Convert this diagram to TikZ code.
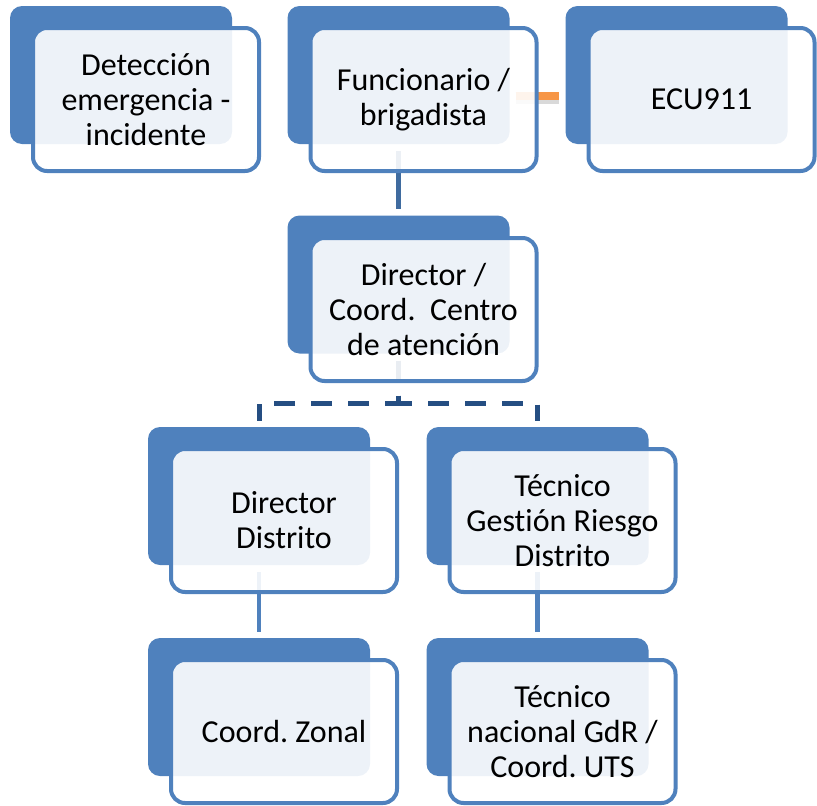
\documentclass[tikz,border=0pt]{standalone}
\usepackage{fontspec}
\setmainfont{Carlito}[RawFeature=-liga]
\definecolor{boxblue}{HTML}{4F81BD}
\definecolor{connA}{HTML}{3F6B9F}
\definecolor{connB}{HTML}{4F81BD}
\definecolor{dashblue}{HTML}{254E82}
\definecolor{orangeln}{HTML}{F79646}
\frenchspacing
\begin{document}
\begin{tikzpicture}[x=1pt,y=-1pt,
  backbox/.style={fill=boxblue, draw=none, rounded corners=12pt,
    minimum width=222pt, minimum height=138pt, inner sep=0pt},
  frontbox/.style={draw=boxblue, line width=4pt, fill=white, fill opacity=0.9,
    text opacity=1, rounded corners=14pt, minimum width=226pt, minimum height=143pt,
    align=center, inner sep=0pt, font=\fontsize{32pt}{35pt}\selectfont},
  solidconn/.style={line width=4.5pt, shorten <=7pt, shorten >=6pt},
  dashconn/.style={draw=dashblue, line width=5pt, dash pattern=on 21pt off 16pt,
    dash phase=2pt, shorten <=7pt, shorten >=6pt}]
\useasboundingbox (0,0) rectangle (817,806);

% back boxes
\node[backbox] (b1) at (121,75) {};
\node[backbox] (b2) at (398.5,75) {};
\node[backbox] (b3) at (676.5,75) {};
\node[backbox] (b4) at (398.5,284.5) {};
\node[backbox] (b5) at (259,496) {};
\node[backbox] (b6) at (537.5,496) {};
\node[backbox] (b7) at (259,707) {};
\node[backbox] (b8) at (537.5,707) {};

% connectors
\draw[solidconn, draw=connA] (b2.south) -- (b4.north);
\draw[dashconn] (b4.south) -- ++(0,49.5) -| (b5.north);
\draw[dashconn] (b4.south) -- ++(0,49.5) -| (b6.north);
\draw[solidconn, draw=connB] (b5.south) -- (b7.north);
\draw[solidconn, draw=connB] (b6.south) -- (b8.north);
\draw[line width=6pt, draw=gray, opacity=0.3, shorten <=6pt, shorten >=6pt]
  ([yshift=-26pt]b2.east) -- ([yshift=-26pt]b3.west);
\draw[line width=8pt, draw=orangeln, shorten <=6pt, shorten >=6pt]
  ([yshift=-21pt]b2.east) -- ([yshift=-21pt]b3.west);

% front boxes
\node[frontbox] (f1) at (146,99.5) {Detección\\emergencia -\\incidente};
\node[frontbox] (f2) at (423.5,99.5) {Funcionario /\\brigadista};
\node[frontbox] (f3) at (701.5,99.5) {ECU911};
\node[frontbox] (f4) at (423.5,309.5) {Director /\\Coord.~ Centro\\de atención};
\node[frontbox] (f5) at (284,520.5) {Director\\Distrito};
\node[frontbox] (f6) at (562.5,520.5) {Técnico\\Gestión Riesgo\\Distrito};
\node[frontbox] (f7) at (284,731.5) {Coord. Zonal};
\node[frontbox] (f8) at (562.5,731.5) {Técnico\\nacional GdR /\\Coord. UTS};
\end{tikzpicture}
\end{document}
